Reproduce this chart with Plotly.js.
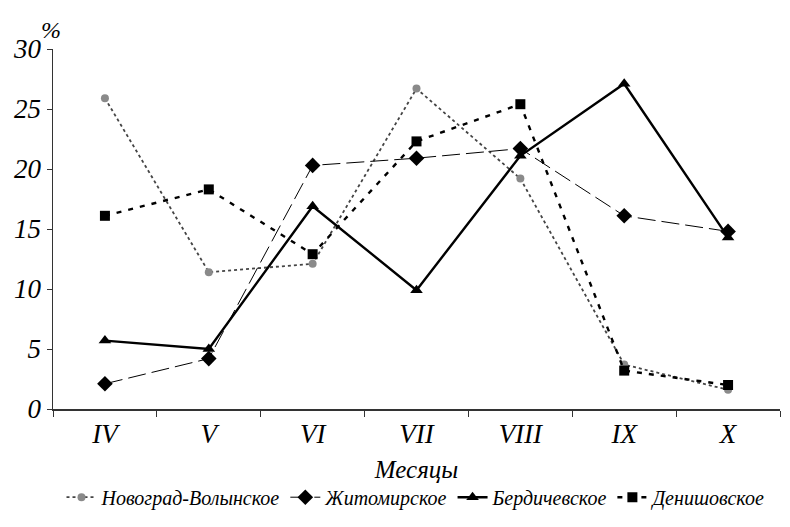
<!DOCTYPE html>
<html>
<head>
<meta charset="utf-8">
<script src="https://cdn.plot.ly/plotly-3.0.1.min.js"></script>
<style>html,body{margin:0;padding:0;background:#fff}#chart{width:790px;height:527px}
.pre{position:absolute;left:-2000px;top:0;font-family:'Liberation Serif';font-style:italic;font-size:20px}</style>
</head>
<body>
<div class="pre">Месяцы IVX 0123456789 %</div>
<div id="chart"></div>
<script>
const months = ["IV", "V", "VI", "VII", "VIII", "IX", "X"];
const novograd = [25.9, 11.4, 12.1, 26.7, 19.2, 3.7, 1.6];
const zhitomir = [2.1, 4.2, 20.3, 20.9, 21.7, 16.1, 14.8];
const berdichev = [5.7, 5.0, 16.9, 9.9, 21.1, 27.1, 14.3];
const denishov = [16.1, 18.3, 12.9, 22.3, 25.4, 3.2, 2.0];
const names = ["Новоград-Волынское", "Житомирское", "Бердичевское", "Денишовское"];

const FONT = "Liberation Serif";

const traces = [
  {x: months, y: novograd, name: names[0], mode: "lines+markers",
   line: {color: "#444", width: 1.8, dash: "dot"},
   marker: {symbol: "circle", size: 8, color: "#8a8a8a"}},
  {x: months, y: zhitomir, name: names[1], mode: "lines+markers",
   line: {color: "#000", width: 1, dash: "18px,6px"},
   marker: {symbol: "diamond", size: 12, color: "#000"}},
  {x: months, y: berdichev, name: names[2], mode: "lines+markers",
   line: {color: "#000", width: 2.4},
   marker: {symbol: "triangle-up", size: 11, color: "#000"}},
  {x: months, y: denishov, name: names[3], mode: "lines+markers",
   line: {color: "#000", width: 2.4, dash: "5px,7px"},
   marker: {symbol: "square", size: 10, color: "#000"}}
];

const layout = {
  width: 790, height: 527,
  margin: {l: 53, r: 10, t: 49, b: 111},
  paper_bgcolor: "#fff", plot_bgcolor: "#fff",
  font: {family: FONT},
  showlegend: true,
  legend: {orientation: "h", x: 0.5, xanchor: "center", y: -0.245, yanchor: "middle",
           font: {family: FONT, size: 20, style: "italic", color: "#000"}, tracegroupgap: 0,
           bgcolor: "rgba(0,0,0,0)"},
  xaxis: {type: "category", range: [-0.5, 6.5], showline: true, linecolor: "#333", linewidth: 1.5,
          ticks: "outside", tickson: "boundaries", ticklen: 6, tickcolor: "#333",
          showgrid: false, zeroline: false,
          tickfont: {family: FONT, size: 27, style: "italic", color: "#000"},
          title: {text: "Месяцы", font: {family: FONT, size: 25, style: "italic", color: "#000"}, standoff: 12}},
  yaxis: {range: [0, 30], dtick: 5, showline: true, linecolor: "#333", linewidth: 1.5,
          ticks: "outside", ticklen: 5, tickcolor: "#333", showgrid: false, zeroline: false,
          tickfont: {family: FONT, size: 27, style: "italic", color: "#000"}},
  annotations: [{text: "%", xref: "paper", yref: "paper", x: 0, y: 1, xanchor: "center", yanchor: "bottom",
                 xshift: -2, yshift: 4, showarrow: false,
                 font: {family: FONT, size: 24, style: "italic", color: "#000"}}]
};

function draw() { Plotly.newPlot("chart", traces, layout, {displayModeBar: false, staticPlot: true}); }
if (document.fonts && document.fonts.load) {
  document.fonts.load('italic 20px "Liberation Serif"').then(draw, draw);
} else { draw(); }
</script>
</body>
</html>
